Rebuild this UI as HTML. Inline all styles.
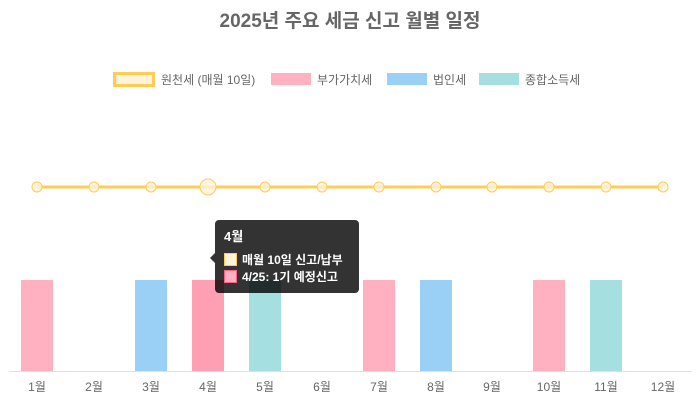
<!DOCTYPE html>
<html><head><meta charset="utf-8"><style>
body{margin:0;background:#fff;}
svg{display:block;font-family:"Liberation Sans","Noto Sans CJK KR",sans-serif;}
</style></head><body>
<svg width="700" height="400" viewBox="0 0 700 400">
<text x="350" y="27" text-anchor="middle" font-size="19" font-weight="bold" fill="#666">2025년 주요 세금 신고 월별 일정</text>
<rect x="114.5" y="73.5" width="39" height="12" fill="#fff3d9" stroke="#ffcd56" stroke-width="3"/>
<text x="161" y="84" font-size="12" fill="#666">원천세 (매월 10일)</text>
<rect x="271" y="73" width="40" height="12" fill="#ffb1c1"/>
<text x="317" y="84" font-size="12" fill="#666">부가가치세</text>
<rect x="387" y="73" width="40" height="12" fill="#9ad0f5"/>
<text x="433" y="84" font-size="12" fill="#666">법인세</text>
<rect x="479" y="73" width="40" height="12" fill="#a5dfdf"/>
<text x="525" y="84" font-size="12" fill="#666">종합소득세</text>
<line x1="9" y1="371.5" x2="692" y2="371.5" stroke="#e0e0e0"/>
<rect x="21" y="280" width="32" height="91" fill="#ffb1c1"/>
<rect x="135" y="280" width="32" height="91" fill="#9ad0f5"/>
<rect x="192" y="280" width="32" height="91" fill="#ff9fb3"/>
<rect x="249" y="280" width="32" height="91" fill="#a5dfdf"/>
<rect x="363" y="280" width="32" height="91" fill="#ffb1c1"/>
<rect x="420" y="280" width="32" height="91" fill="#9ad0f5"/>
<rect x="533" y="280" width="32" height="91" fill="#ffb1c1"/>
<rect x="590" y="280" width="32" height="91" fill="#a5dfdf"/>
<line x1="37" y1="187" x2="663" y2="187" stroke="#ffcd56" stroke-width="3"/>
<g fill="#fff3d9" fill-opacity="0.8" stroke="#ffcd56" stroke-width="1">
<circle cx="37" cy="187" r="5"/><circle cx="94" cy="187" r="5"/><circle cx="151" cy="187" r="5"/>
<circle cx="208" cy="187" r="8"/><circle cx="265" cy="187" r="5"/><circle cx="322" cy="187" r="5"/>
<circle cx="379" cy="187" r="5"/><circle cx="436" cy="187" r="5"/><circle cx="492" cy="187" r="5"/>
<circle cx="549" cy="187" r="5"/><circle cx="606" cy="187" r="5"/><circle cx="663" cy="187" r="5"/>
</g>
<g font-size="12" fill="#666" text-anchor="middle">
<text x="37" y="391">1월</text><text x="94" y="391">2월</text><text x="151" y="391">3월</text>
<text x="208" y="391">4월</text><text x="265" y="391">5월</text><text x="322" y="391">6월</text>
<text x="379" y="391">7월</text><text x="436" y="391">8월</text><text x="492" y="391">9월</text>
<text x="549" y="391">10월</text><text x="606" y="391">11월</text><text x="663" y="391">12월</text>
</g>
<path d="M219 220 H355 a4 4 0 0 1 4 4 V289 a4 4 0 0 1 -4 4 H219 a4 4 0 0 1 -4 -4 V263 L210 258 L215 253 V224 a4 4 0 0 1 4 -4Z" fill="#000" fill-opacity="0.8"/>
<text x="224" y="241" font-size="13" font-weight="bold" fill="#fff">4월</text>
<rect x="224.5" y="253.5" width="12" height="12" fill="#fff3d9" stroke="#ffcd56"/>
<text x="242" y="264" font-size="12" font-weight="bold" fill="#fff">매월 10일 신고/납부</text>
<rect x="224.5" y="270.5" width="12" height="12" fill="#ffb1c1" stroke="#ff6384"/>
<text x="242" y="281" font-size="12" font-weight="bold" fill="#fff">4/25: 1기 예정신고</text>
</svg>
</body></html>
